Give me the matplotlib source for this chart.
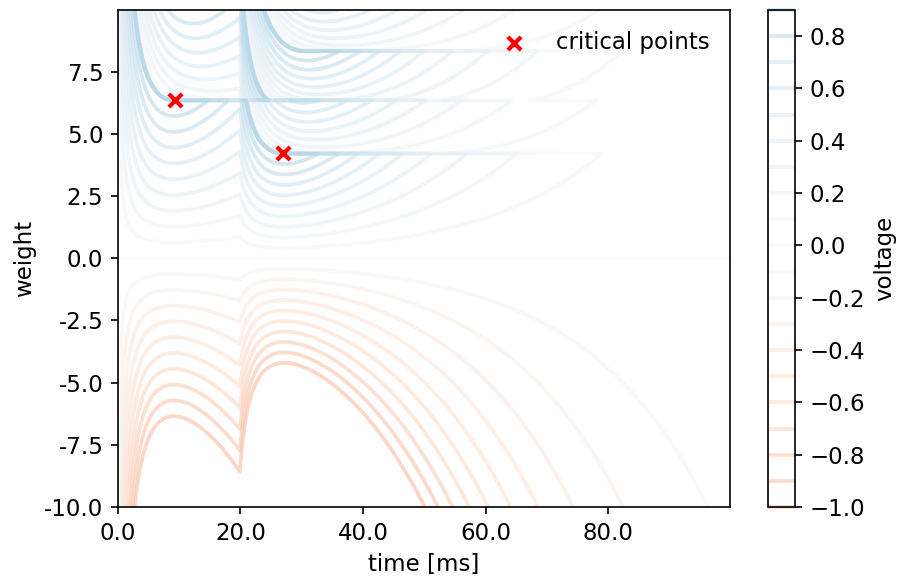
import numpy as np
import matplotlib
matplotlib.use("Agg")
import matplotlib.pyplot as plt
from matplotlib.ticker import FormatStrFormatter

plt.rcParams["font.size"] = 11

# neuron model (LIF, current based exp synapses), two input spikes with the same weight
tau_mem = 20.0   # ms
tau_syn = 5.0    # ms
threshold = 1.0
input_times = [0.0, 20.0]

# grids of the plot
t_max = 100.0
t_step = 0.1
w_min, w_max, w_step = -10.0, 10.0, 0.02

# contour levels of voltage
levels = np.arange(-1.0, 1.0, 0.1)

# critical points (time [ms], weight)
crit_times = [9.25, 26.9]
crit_weights = [6.35, 4.21]


def simulate(weights, t_max, t_step, dt=0.01):
    n_sub = int(round(t_step / dt))
    n_rec = int(round(t_max / t_step))
    decay_m = np.exp(-dt / tau_mem)
    decay_s = np.exp(-dt / tau_syn)
    prop = tau_syn / (tau_mem - tau_syn) * (decay_m - decay_s)
    in_steps = [int(round(ti / dt)) for ti in input_times]

    v = np.zeros_like(weights)
    i_syn = np.zeros_like(weights)
    out = np.zeros((n_rec, len(weights)))
    step = 0
    for k in range(n_rec):
        for _ in range(n_sub):
            if step in in_steps:
                i_syn = i_syn + weights
            v = v * decay_m + i_syn * prop
            i_syn = i_syn * decay_s
            spiked = v >= threshold
            v[spiked] = 0.0  # reset
            step += 1
        out[k] = v
    return out


weights = np.arange(w_min, w_max, w_step)
times = np.arange(0.0, t_max, t_step)
V = simulate(weights, t_max, t_step)

fig = plt.figure(figsize=(897 / 150, 583 / 150), dpi=150)
ax = fig.add_axes([0.1315, 0.1304, 0.6823, 0.8525])
cax = fig.add_axes([0.8562, 0.1304, 0.0301, 0.8525])

cs = ax.contour(times, weights, V.T, levels=levels, cmap="RdBu",
                vmin=-3, vmax=3, alpha=0.55, linewidths=1.8)
ax.scatter(crit_times, crit_weights, marker="x", color="red", s=40,
           linewidths=2, zorder=3, label="critical points")

ax.xaxis.set_major_formatter(FormatStrFormatter("%.1f"))
ax.yaxis.set_major_formatter(FormatStrFormatter("%.1f"))
ax.set_xlabel("time [ms]")
ax.set_ylabel("weight")
ax.legend(loc="upper right", frameon=False)

cb = fig.colorbar(cs, cax=cax)
cb.set_label("voltage")

fig.savefig("out.png", dpi=150)
